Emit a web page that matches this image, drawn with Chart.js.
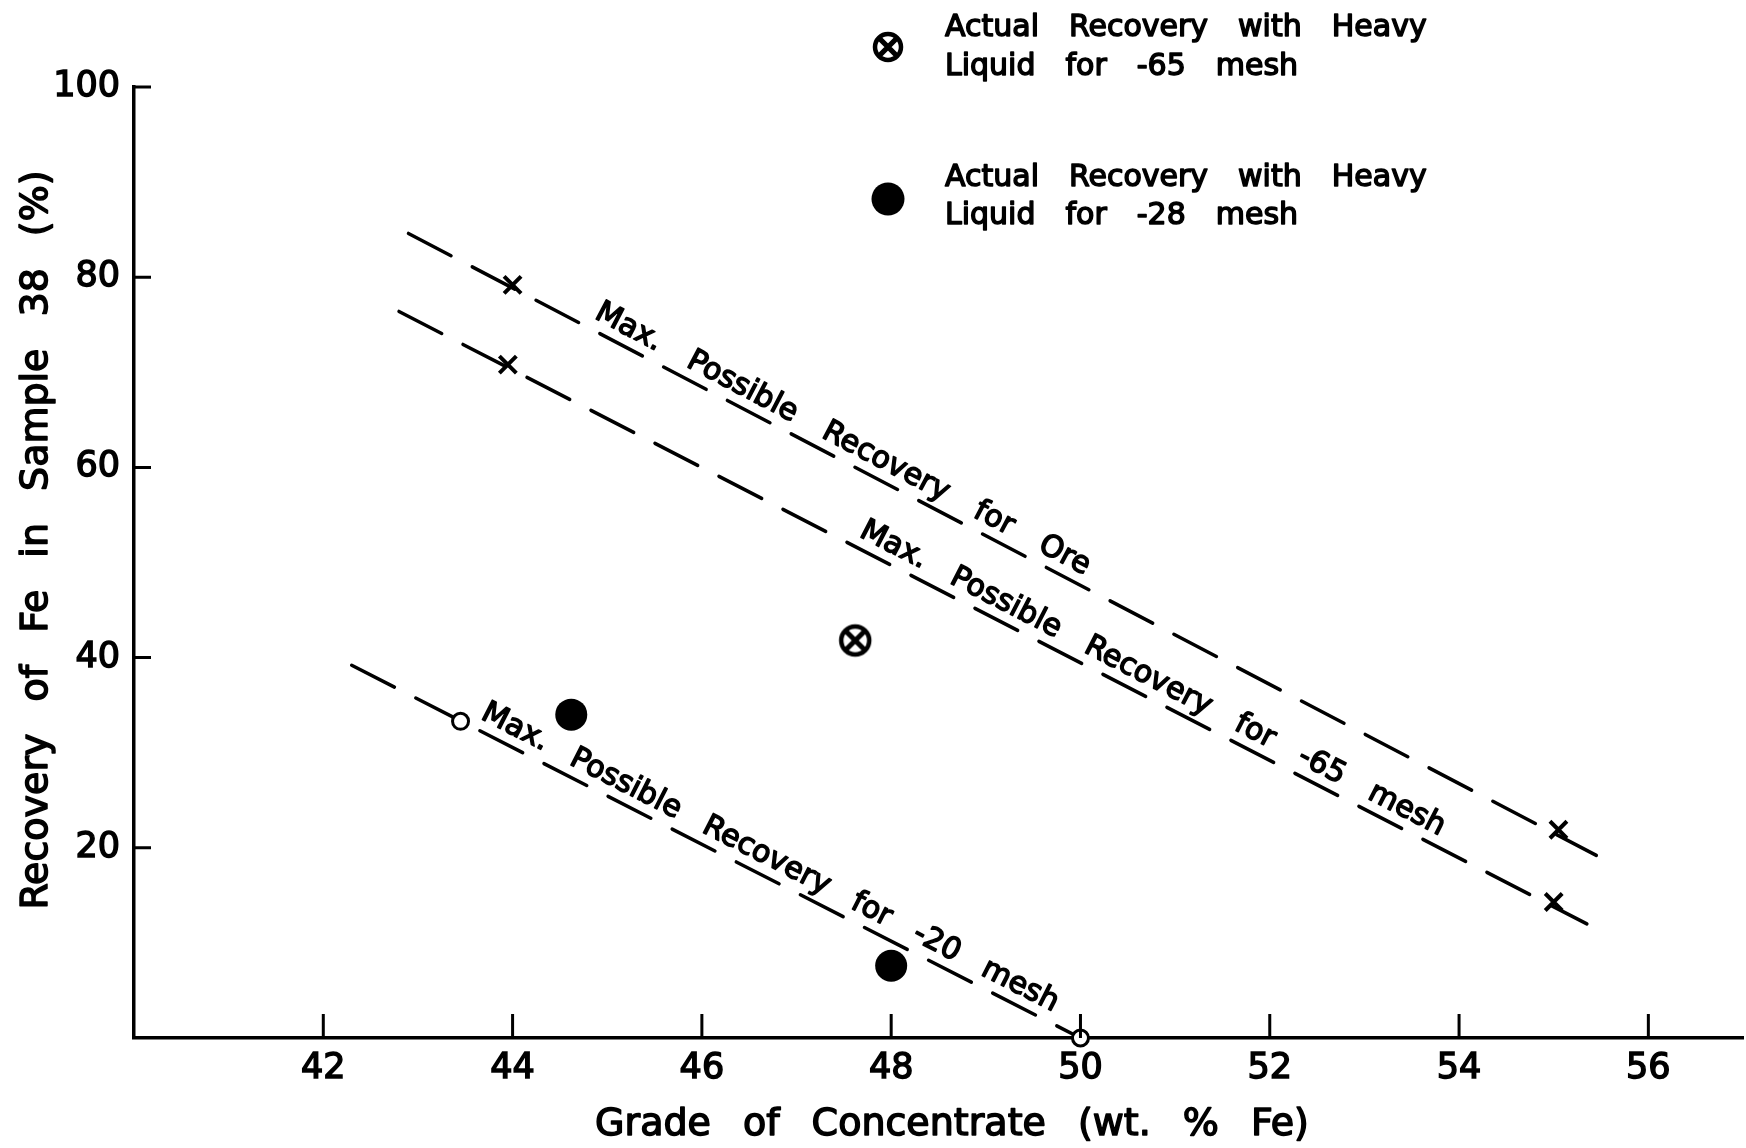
<!DOCTYPE html>
<html>
<head>
<meta charset="utf-8">
<script src="https://cdn.jsdelivr.net/npm/chart.js@4.4.0/dist/chart.umd.min.js"></script>
<style>
  html, body { margin: 0; padding: 0; background: #fff; }
  canvas { display: block; }
</style>
</head>
<body>
<canvas id="chart" width="1746" height="1148"></canvas>
<script>
const X_TICKS = [42, 44, 46, 48, 50, 52, 54, 56];
const Y_TICKS = [20, 40, 60, 80, 100];

// dashed "max possible recovery" lines (end points) and their marked points
const oreLineX = [42.9, 55.45];
const oreLineY = [84.6, 19.2];
const oreMarkX = [44.0, 55.05];
const oreMarkY = [79.2, 21.9];

const mesh65LineX = [42.8, 55.35];
const mesh65LineY = [76.4, 12.0];
const mesh65MarkX = [43.95, 55.0];
const mesh65MarkY = [70.8, 14.3];

const mesh20LineX = [42.3, 50.0];
const mesh20LineY = [39.2, 0];
const mesh20MarkX = [43.45, 50.0];
const mesh20MarkY = [33.3, 0];

// actual recovery with heavy liquid
const heavy65X = [47.62];
const heavy65Y = [41.8];
const heavy28X = [44.62, 48.0];
const heavy28Y = [34.0, 7.6];

const LEGEND_LINES = [
  ["Actual Recovery with Heavy", "Liquid for -65 mesh"],
  ["Actual Recovery with Heavy", "Liquid for -28 mesh"]
];

const FONT = "DejaVu Sans";

const pts = (xs, ys) => xs.map((x, i) => ({ x, y: ys[i] }));

function makeOtimes(r) {
  const c = document.createElement("canvas");
  const s = Math.ceil(r * 2 + 8);
  c.width = s; c.height = s;
  const g = c.getContext("2d");
  const m = s / 2;
  g.strokeStyle = "#000";
  g.lineWidth = 4.5;
  g.beginPath(); g.arc(m, m, r, 0, Math.PI * 2); g.stroke();
  const d = r * 0.72;
  g.lineWidth = 5;
  g.beginPath();
  g.moveTo(m - d, m - d); g.lineTo(m + d, m + d);
  g.moveTo(m + d, m - d); g.lineTo(m - d, m + d);
  g.stroke();
  return c;
}
const otimes = makeOtimes(14);
const otimesSmall = makeOtimes(13);

// text with wide word gaps, slightly emboldened
function drawSpaced(ctx, text, x, y, gap) {
  let cx = x;
  text.split(" ").forEach(w => {
    ctx.fillText(w, cx, y);
    ctx.strokeText(w, cx, y);
    cx += ctx.measureText(w).width + gap;
  });
}
function spacedWidth(ctx, text, gap) {
  const words = text.split(" ");
  return words.reduce((s, w) => s + ctx.measureText(w).width, 0) + gap * (words.length - 1);
}

const LINE_LABELS = [
  { text: "Max. Possible Recovery for Ore", lx: oreLineX, ly: oreLineY, at: 44.8, gap: 32 },
  { text: "Max. Possible Recovery for -65 mesh", lx: mesh65LineX, ly: mesh65LineY, at: 47.6, gap: 30 },
  { text: "Max. Possible Recovery for -20 mesh", lx: mesh20LineX, ly: mesh20LineY, at: 43.6, gap: 28 }
];

const decor = {
  id: "decor",
  afterDraw(chart) {
    const { ctx, chartArea: a, scales: { x, y } } = chart;
    ctx.save();
    ctx.strokeStyle = "#000";
    ctx.fillStyle = "#000";
    ctx.lineWidth = 3;

    // inward ticks
    ctx.beginPath();
    X_TICKS.forEach(v => {
      const px = x.getPixelForValue(v);
      ctx.moveTo(px, a.bottom);
      ctx.lineTo(px, a.bottom - 24);
    });
    Y_TICKS.forEach(v => {
      const py = y.getPixelForValue(v);
      ctx.moveTo(a.left, py);
      ctx.lineTo(a.left + 17, py);
    });
    ctx.stroke();

    ctx.lineWidth = 1.5;
    ctx.lineJoin = "round";

    // axis titles
    ctx.font = `38px "${FONT}"`;
    ctx.textBaseline = "alphabetic";
    const xt = "Grade of Concentrate (wt. % Fe)";
    drawSpaced(ctx, xt, 952 - spacedWidth(ctx, xt, 32) / 2, 1135, 32);
    const yt = "Recovery of Fe in Sample 38 (%)";
    ctx.save();
    ctx.translate(47, 540);
    ctx.rotate(-Math.PI / 2);
    drawSpaced(ctx, yt, -spacedWidth(ctx, yt, 32) / 2, 0, 32);
    ctx.restore();

    // legend
    ctx.drawImage(otimesSmall, 888 - otimesSmall.width / 2, 47 - otimesSmall.height / 2);
    ctx.beginPath();
    ctx.arc(888, 199, 16.5, 0, Math.PI * 2);
    ctx.fill();
    ctx.font = `30px "${FONT}"`;
    drawSpaced(ctx, LEGEND_LINES[0][0], 945, 36, 30);
    drawSpaced(ctx, LEGEND_LINES[0][1], 945, 75, 30);
    drawSpaced(ctx, LEGEND_LINES[1][0], 945, 186, 30);
    drawSpaced(ctx, LEGEND_LINES[1][1], 945, 224, 30);

    // labels along the dashed lines
    LINE_LABELS.forEach(l => {
      const x0 = x.getPixelForValue(l.lx[0]), y0 = y.getPixelForValue(l.ly[0]);
      const x1 = x.getPixelForValue(l.lx[1]), y1 = y.getPixelForValue(l.ly[1]);
      const ang = Math.atan2(y1 - y0, x1 - x0);
      const t = (l.at - l.lx[0]) / (l.lx[1] - l.lx[0]);
      const px = x.getPixelForValue(l.at);
      const py = y.getPixelForValue(l.ly[0] + t * (l.ly[1] - l.ly[0]));
      ctx.save();
      ctx.translate(px, py);
      ctx.rotate(ang);
      drawSpaced(ctx, l.text, 0, -11, l.gap);
      ctx.restore();
    });
    ctx.restore();
  }
};

const dashed = (data) => ({
  data,
  showLine: true,
  borderColor: "#000",
  borderWidth: 3.5,
  borderDash: [48, 24],
  borderCapStyle: "round",
  pointRadius: 0,
  fill: false,
  clip: false,
  order: 5
});
const marks = (data, style) => Object.assign({
  data,
  showLine: false,
  borderColor: "#000",
  clip: false,
  order: 1
}, style);

const tickFont = { family: FONT, size: 35 };

new Chart(document.getElementById("chart"), {
  type: "scatter",
  data: {
    datasets: [
      dashed(pts(oreLineX, oreLineY)),
      dashed(pts(mesh65LineX, mesh65LineY)),
      dashed(pts(mesh20LineX, mesh20LineY)),
      marks(pts(oreMarkX, oreMarkY), { pointStyle: "crossRot", pointRadius: 12, borderWidth: 4 }),
      marks(pts(mesh65MarkX, mesh65MarkY), { pointStyle: "crossRot", pointRadius: 12, borderWidth: 4 }),
      marks(pts(mesh20MarkX, mesh20MarkY), { pointStyle: "circle", pointRadius: 8, borderWidth: 3, backgroundColor: "#fff" }),
      marks(pts(heavy65X, heavy65Y), { pointStyle: otimes, pointRadius: 16 }),
      marks(pts(heavy28X, heavy28Y), { pointStyle: "circle", pointRadius: 16, borderWidth: 0, backgroundColor: "#000" })
    ]
  },
  options: {
    responsive: false,
    animation: false,
    events: [],
    layout: { autoPadding: false, padding: { top: 87, right: 3, left: 0, bottom: 0 } },
    plugins: {
      legend: { display: false },
      tooltip: { enabled: false },
      title: { display: false }
    },
    scales: {
      x: {
        type: "linear",
        min: 40,
        max: 57,
        afterBuildTicks: s => { s.ticks = X_TICKS.map(v => ({ value: v })); },
        afterFit: s => { s.height = 110; },
        grid: { display: false, drawTicks: false },
        border: { display: true, color: "#000", width: 3.5 },
        ticks: { color: "#000", font: tickFont, padding: 10, maxRotation: 0, autoSkip: false,
                 textStrokeColor: "#000", textStrokeWidth: 1.5 }
      },
      y: {
        type: "linear",
        min: 0,
        max: 100,
        afterBuildTicks: s => { s.ticks = Y_TICKS.map(v => ({ value: v })); },
        afterFit: s => { s.width = 134; },
        grid: { display: false, drawTicks: false },
        border: { display: true, color: "#000", width: 3.5 },
        ticks: { color: "#000", font: tickFont, padding: 14, autoSkip: false,
                 textStrokeColor: "#000", textStrokeWidth: 1.5 }
      }
    }
  },
  plugins: [decor]
});
</script>
</body>
</html>
